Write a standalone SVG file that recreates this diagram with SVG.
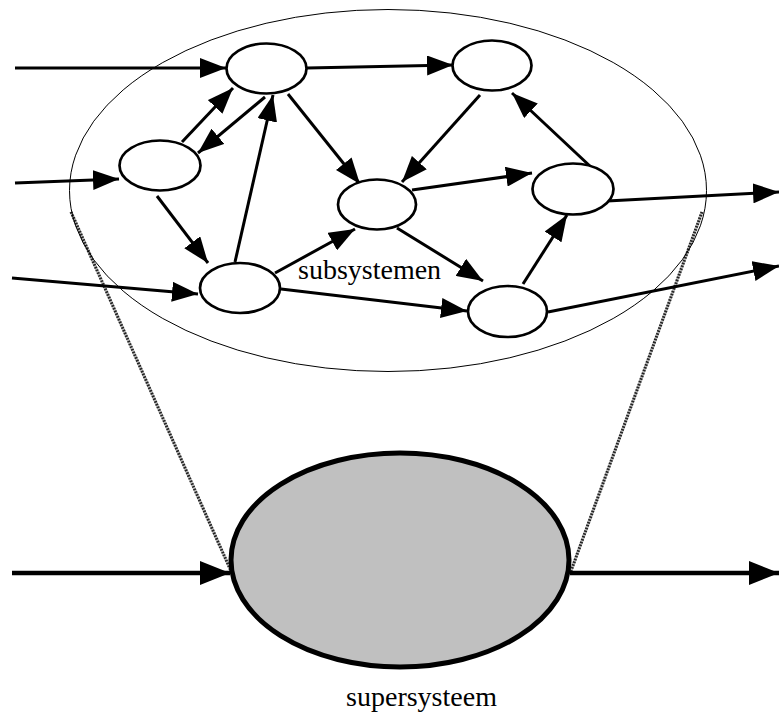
<svg xmlns="http://www.w3.org/2000/svg" width="779" height="715" viewBox="0 0 779 715">
<style>
.node{fill:#fff;stroke:#000;stroke-width:2.7}
.edge{stroke:#000;stroke-width:3;fill:none}
.big{stroke:#000;stroke-width:4.5;fill:none}
.lbl{font-family:"Liberation Serif","Times New Roman",serif;font-size:28px;fill:#000}
.proj-base{stroke:#bbb;stroke-width:3;fill:none}
.proj{stroke:#222;stroke-width:3;stroke-dasharray:1.6,1.4;fill:none}
</style>
<defs>
<marker id="ah" markerUnits="userSpaceOnUse" markerWidth="26" markerHeight="20" refX="26" refY="10" orient="auto">
<path d="M0,0 L26,10 L0,20 z" fill="#000"/>
</marker>
<marker id="ahb" markerUnits="userSpaceOnUse" markerWidth="30" markerHeight="24" refX="30" refY="12" orient="auto">
<path d="M0,0 L30,12 L0,24 z" fill="#000"/>
</marker>
</defs>
<g id="projection">
<line class="proj-base" x1="71" y1="212" x2="231" y2="571"/>
<line class="proj-base" x1="702" y1="212" x2="571" y2="571"/>
<line class="proj" x1="71" y1="212" x2="231" y2="571"/>
<line class="proj" x1="702" y1="212" x2="571" y2="571"/>
</g>
<g id="system-boundary">
<ellipse cx="388" cy="190.5" rx="318.5" ry="181" fill="none" stroke="#000" stroke-width="1"/>
</g>
<g id="connectors">
<line class="edge" x1="15" y1="68" x2="226" y2="68" marker-end="url(#ah)"/>
<line class="edge" x1="15" y1="183" x2="119" y2="179" marker-end="url(#ah)"/>
<line class="edge" x1="12" y1="278" x2="198" y2="294" marker-end="url(#ah)"/>
<line class="edge" x1="307" y1="68" x2="453" y2="65" marker-end="url(#ah)"/>
<line class="edge" x1="182" y1="142" x2="233" y2="88" marker-end="url(#ah)"/>
<line class="edge" x1="265" y1="97" x2="198" y2="153" marker-end="url(#ah)"/>
<line class="edge" x1="157" y1="196" x2="208" y2="263" marker-end="url(#ah)"/>
<line class="edge" x1="235" y1="262" x2="273" y2="95" marker-end="url(#ah)"/>
<line class="edge" x1="288" y1="94" x2="360" y2="184" marker-end="url(#ah)"/>
<line class="edge" x1="275" y1="273" x2="355" y2="229" marker-end="url(#ah)"/>
<line class="edge" x1="281" y1="289" x2="467" y2="311" marker-end="url(#ah)"/>
<line class="edge" x1="480" y1="95" x2="402" y2="182" marker-end="url(#ah)"/>
<line class="edge" x1="412" y1="190" x2="532" y2="173" marker-end="url(#ah)"/>
<line class="edge" x1="397" y1="228" x2="483" y2="281" marker-end="url(#ah)"/>
<line class="edge" x1="523" y1="284" x2="567" y2="215" marker-end="url(#ah)"/>
<line class="edge" x1="592" y1="168" x2="512" y2="93" marker-end="url(#ah)"/>
<line class="edge" x1="607" y1="201" x2="779" y2="192" marker-end="url(#ah)"/>
<line class="edge" x1="548" y1="312" x2="779" y2="266" marker-end="url(#ah)"/>
<line class="big" x1="12" y1="573" x2="230" y2="573" marker-end="url(#ahb)"/>
<line class="big" x1="570" y1="573" x2="779" y2="573" marker-end="url(#ahb)"/>
</g>
<g id="node-a"><ellipse class="node" cx="266.5" cy="68.5" rx="40" ry="25"/></g>
<g id="node-b"><ellipse class="node" cx="160" cy="165.5" rx="40.5" ry="25"/></g>
<g id="node-c"><ellipse class="node" cx="240" cy="288" rx="40" ry="25"/></g>
<g id="node-d"><ellipse class="node" cx="377" cy="204.5" rx="39" ry="25"/></g>
<g id="node-e"><ellipse class="node" cx="492" cy="65.5" rx="39.5" ry="25"/></g>
<g id="node-f"><ellipse class="node" cx="573" cy="189" rx="40.5" ry="25.5"/></g>
<g id="node-g"><ellipse class="node" cx="507.5" cy="311.5" rx="39.5" ry="25.5"/></g>
<g id="label-subsystemen"><text class="lbl" x="298" y="279">subsystemen</text></g>
<g id="supersysteem">
<ellipse cx="400" cy="560" rx="169" ry="107" fill="#c0c0c0" stroke="#000" stroke-width="5"/>
<text class="lbl" x="421.5" y="706" text-anchor="middle">supersysteem</text>
</g>
</svg>
